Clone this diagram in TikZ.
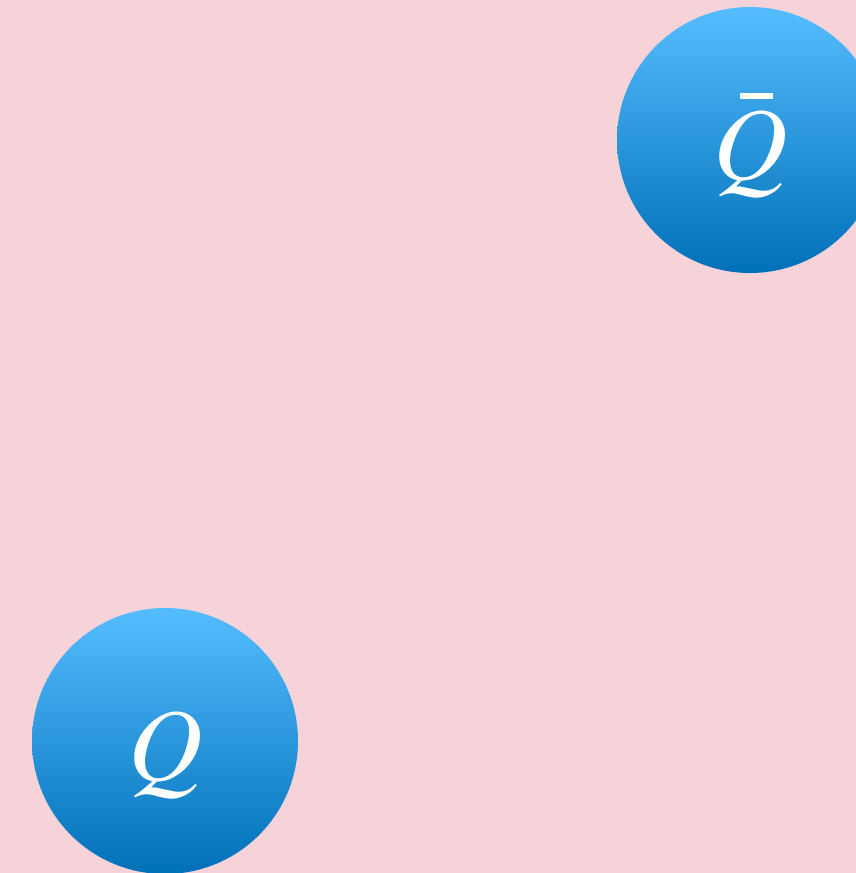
\documentclass[tikz,border=0pt]{standalone}
\usepackage{fontspec}
\newfontfamily\termesit{texgyretermes-italic.otf}
\definecolor{bgpink}{HTML}{F5D3D9}
\definecolor{balltop}{HTML}{55BDFF}
\definecolor{ballbot}{HTML}{0070B8}
\begin{document}
\begin{tikzpicture}[x=1pt,y=-1pt,
  ball/.style={circle,minimum size=266pt,inner sep=0pt,top color=balltop,bottom color=ballbot,draw=none},
  lbl/.style={anchor=base,text=white,inner sep=0pt,font=\fontsize{103}{103}\selectfont\termesit}]
  \fill[bgpink] (0,0) rectangle (856,873);
  \useasboundingbox (0,0) rectangle (856,873);
  \begin{scope}
    \clip (0,0) rectangle (856,873);
    \node[ball] (antiq) at (750,140) {};
    \node[ball] (quark) at (165,741) {};
  \end{scope}
  \node[lbl] (antiqlabel) at (751,179) {\makebox[0pt][l]{\hspace{26pt}\raisebox{80pt}{\rule{33pt}{6pt}}}Q};
  \node[lbl] (quarklabel) at (166,780) {Q};
\end{tikzpicture}
\end{document}
